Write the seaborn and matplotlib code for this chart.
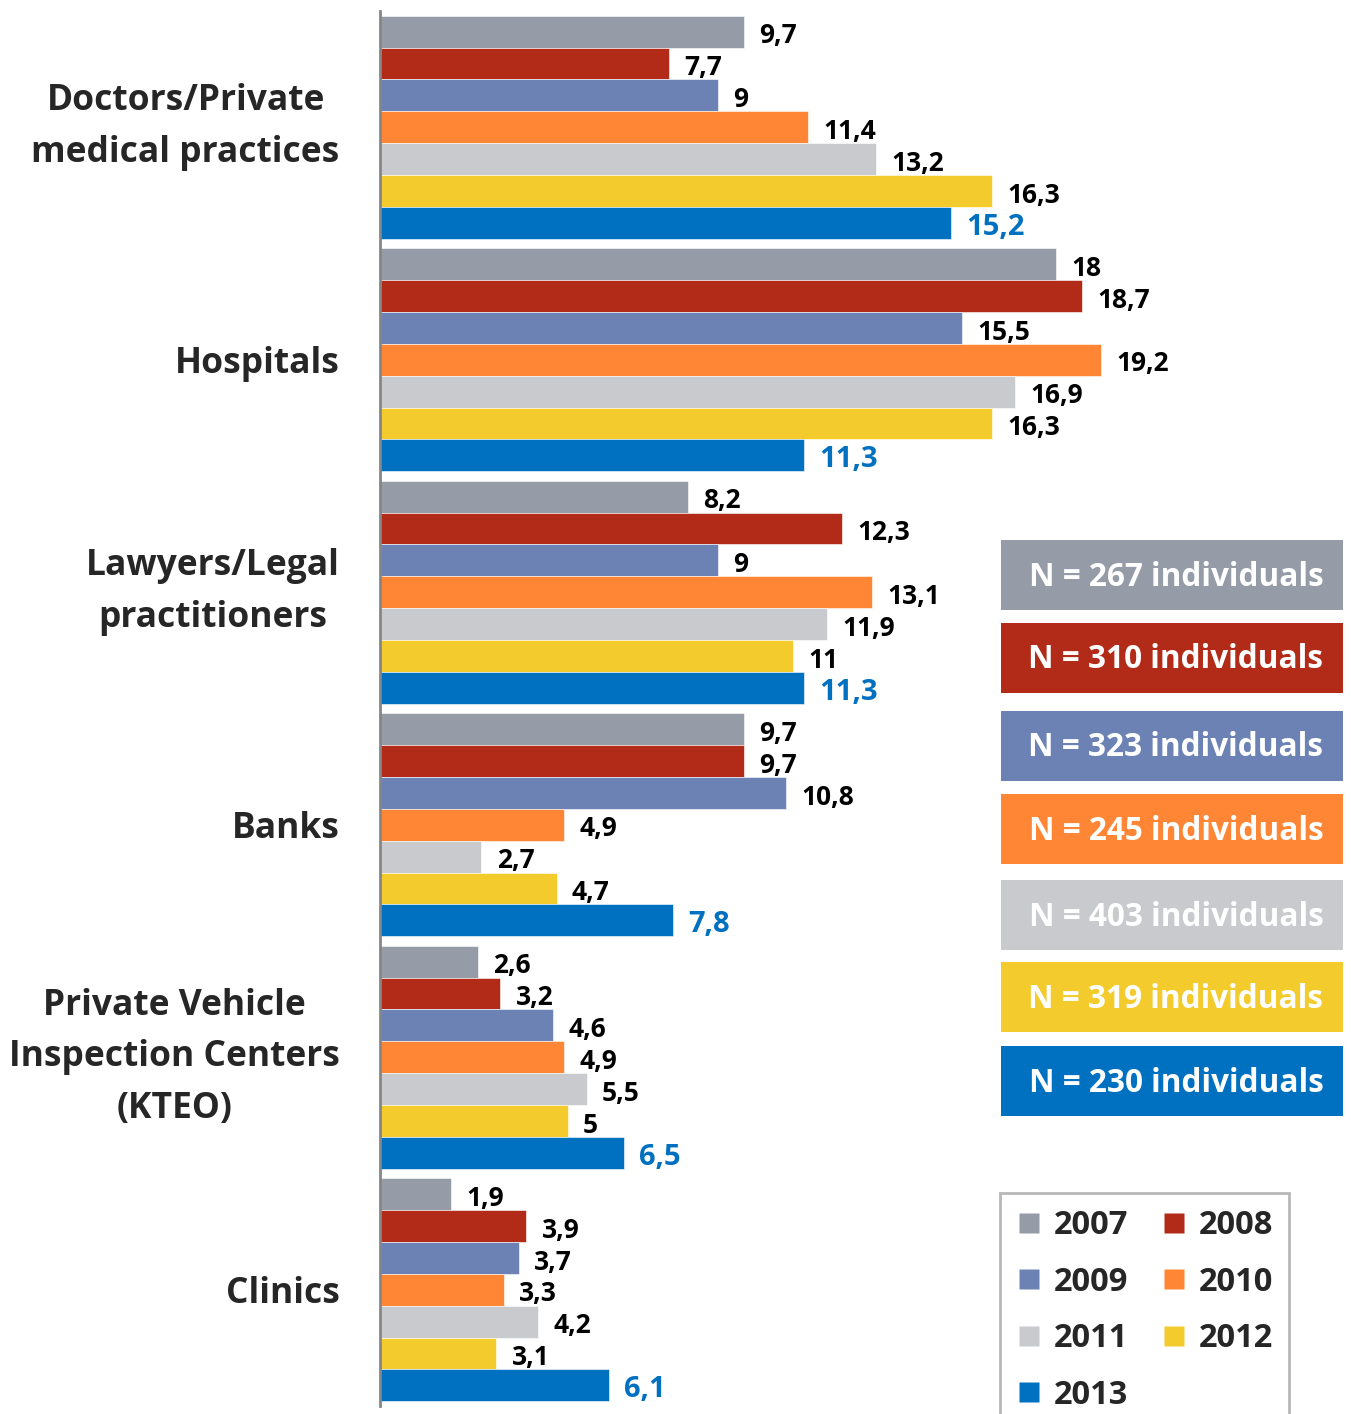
import numpy as np
import pandas as pd
import matplotlib
matplotlib.use("Agg")
import matplotlib.pyplot as plt
from matplotlib.patches import Rectangle
from matplotlib.lines import Line2D
import seaborn as sns

categories = ["Doctors/Private\nmedical practices", "Hospitals", "Lawyers/Legal\npractitioners",
              "Banks", "Private Vehicle\nInspection Centers\n(KTEO)", "Clinics"]
years = ["2007", "2008", "2009", "2010", "2011", "2012", "2013"]
v2007 = [9.7, 18, 8.2, 9.7, 2.6, 1.9]
v2008 = [7.7, 18.7, 12.3, 9.7, 3.2, 3.9]
v2009 = [9, 15.5, 9, 10.8, 4.6, 3.7]
v2010 = [11.4, 19.2, 13.1, 4.9, 4.9, 3.3]
v2011 = [13.2, 16.9, 11.9, 2.7, 5.5, 4.2]
v2012 = [16.3, 16.3, 11, 4.7, 5, 3.1]
v2013 = [15.2, 11.3, 11.3, 7.8, 6.5, 6.1]
sample_sizes = [267, 310, 323, 245, 403, 319, 230]
colors = ["#959CA8", "#B22B18", "#6C82B5", "#FF8635", "#C9CACE", "#F4CB2C", "#0070C0"]

series = [v2007, v2008, v2009, v2010, v2011, v2012, v2013]
rows = []
for y, vals in zip(years, series):
    for c, v in zip(categories, vals):
        rows.append({"category": c, "year": y, "value": v})
df = pd.DataFrame(rows)

sns.set_style("white")
plt.rcParams["font.family"] = ["Open Sans", "DejaVu Sans"]
plt.rcParams["font.weight"] = "bold"

W, H = 1351, 1414
fig = plt.figure(figsize=(W / 100, H / 100), dpi=100)
ax = fig.add_axes([380 / W, 1 - 1406 / H, (W - 380) / W, 1395 / H])

sns.barplot(data=df, y="category", x="value", hue="year", order=categories, hue_order=years,
            palette=colors, orient="h", width=0.96, saturation=1, legend=False, ax=ax,
            edgecolor="white", linewidth=0.4)

ax.set_xlim(0, (W - 380) / 37.56)
ax.set_ylim(5.5, -0.5)
ax.set_xlabel("")
ax.set_ylabel("")
ax.set_xticks([])
for s in ["top", "right", "bottom"]:
    ax.spines[s].set_visible(False)
ax.spines["left"].set_color("#868686")
ax.spines["left"].set_linewidth(2)

ax.set_yticks(range(len(categories)))
ax.set_yticklabels(categories, fontsize=25.5, fontweight="bold")
for lbl in ax.get_yticklabels():
    lbl.set_multialignment("center")
    lbl.set_linespacing(1.58)
    if "\n" in lbl.get_text():
        lbl.set_verticalalignment("center")
ax.tick_params(axis="y", which="major", length=0, pad=29)
ax.set_yticks(np.arange(-0.5, 6, 1), minor=True)
ax.tick_params(axis="y", which="minor", length=6, width=2, color="#868686", direction="out")


def fmt(v):
    if float(v).is_integer():
        return str(int(v))
    return ("%g" % v).replace(".", ",")


for i, cont in enumerate(ax.containers):
    vals = series[i]
    last = i == len(years) - 1
    anns = ax.bar_label(cont, labels=[fmt(v) for v in vals], padding=11,
                        fontsize=21 if last else 19, fontweight="bold",
                        color="#0070C0" if last else "black")
    for a in anns:
        a.xyann = (11, -3)

# N boxes
box_tops = [540, 623, 711, 794, 880, 962, 1046]
for top, n, col in zip(box_tops, sample_sizes, colors):
    fig.add_artist(Rectangle((1001 / W, 1 - (top + 70) / H), 342 / W, 70 / H,
                             transform=fig.transFigure, facecolor=col, edgecolor="none"))
    fig.text(1176 / W, 1 - (top + 37) / H, f"N = {n} individuals", color="white",
             fontsize=22.7, fontweight="bold", ha="center", va="center")

# legend
order = [0, 2, 4, 6, 1, 3, 5]
handles = [Line2D([], [], marker="s", linestyle="none", markersize=15,
                  markerfacecolor=colors[k], markeredgecolor="none") for k in order]
labels = [years[k] for k in order]
leg = fig.legend(handles, labels, ncol=2, loc="upper left",
                 bbox_to_anchor=(1000 / W, 1 - 1193 / H), frameon=True, fancybox=False,
                 edgecolor="#A6A6A6", fontsize=23.5, handlelength=0.8, handletextpad=0.35,
                 columnspacing=1.0, labelspacing=0.72, borderpad=0.5, borderaxespad=0)
leg.get_frame().set_linewidth(2)
for t in leg.get_texts():
    t.set_fontweight("bold")

fig.savefig("out.png", dpi=100)
